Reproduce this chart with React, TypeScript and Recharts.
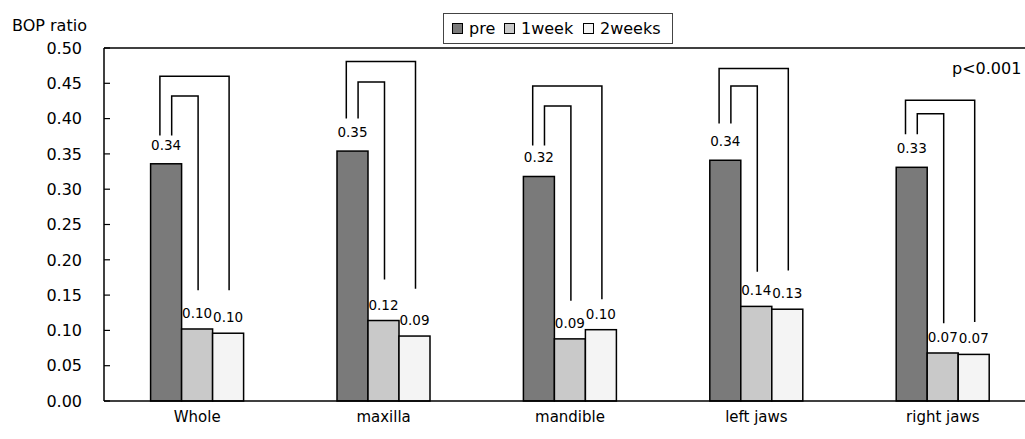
import { BarChart, Bar, XAxis, YAxis, ReferenceLine } from "recharts";

const categories = ["Whole", "maxilla", "mandible", "left jaws", "right jaws"];
const preValues = [0.336, 0.354, 0.318, 0.341, 0.331];
const week1Values = [0.102, 0.114, 0.088, 0.134, 0.068];
const week2Values = [0.096, 0.092, 0.101, 0.13, 0.066];
const preLabels = ["0.34", "0.35", "0.32", "0.34", "0.33"];
const week1Labels = ["0.10", "0.12", "0.09", "0.14", "0.07"];
const week2Labels = ["0.10", "0.09", "0.10", "0.13", "0.07"];
const yTicks = [0, 0.05, 0.1, 0.15, 0.2, 0.25, 0.3, 0.35, 0.4, 0.45, 0.5];

// significance brackets (pre vs 1week, pre vs 2weeks), in BOP ratio units
const outerTops = [0.46, 0.481, 0.446, 0.471, 0.426];
const innerTops = [0.432, 0.452, 0.418, 0.446, 0.407];
const leftFeet = [0.376, 0.4, 0.362, 0.393, 0.378];
const week1Feet = [0.157, 0.172, 0.142, 0.183, 0.11];
const week2Feet = [0.157, 0.159, 0.144, 0.185, 0.112];

const data = categories.map((name, i) => ({
  name,
  pre: preValues[i],
  week1: week1Values[i],
  week2: week2Values[i],
}));

const FONT = "'DejaVu Sans', sans-serif";
const COLORS = { pre: "#7a7a7a", week1: "#c9c9c9", week2: "#f4f4f4" };

const barRect = (p: any, fill: string) => (
  <rect
    x={p.x}
    y={p.y}
    width={p.width}
    height={p.height}
    fill={fill}
    stroke="#000"
    strokeWidth={1.5}
  />
);

const valueText = (p: any, text: string, gap: number) => (
  <text
    x={p.x + p.width / 2}
    y={p.y - gap}
    textAnchor="middle"
    fontSize={13.5}
    fontFamily={FONT}
    fill="#000"
  >
    {text}
  </text>
);

const PreShape = (p: any) => {
  const i = p.index;
  const k = p.height / preValues[i];
  const zero = p.y + p.height;
  const yOf = (v: number) => zero - v * k;
  const w = p.width;
  const lo = p.x + 0.3 * w;
  const li = p.x + 0.68 * w;
  const r1 = p.x + 1.5 * w + 1;
  const r2 = p.x + 2.5 * w + 1;
  return (
    <g>
      {barRect(p, COLORS.pre)}
      {valueText(p, preLabels[i], 14)}
      <polyline
        points={`${lo},${yOf(leftFeet[i])} ${lo},${yOf(outerTops[i])} ${r2},${yOf(outerTops[i])} ${r2},${yOf(week2Feet[i])}`}
        fill="none"
        stroke="#000"
        strokeWidth={1.5}
      />
      <polyline
        points={`${li},${yOf(leftFeet[i])} ${li},${yOf(innerTops[i])} ${r1},${yOf(innerTops[i])} ${r1},${yOf(week1Feet[i])}`}
        fill="none"
        stroke="#000"
        strokeWidth={1.5}
      />
    </g>
  );
};

const Week1Shape = (p: any) => (
  <g>
    {barRect(p, COLORS.week1)}
    {valueText(p, week1Labels[p.index], 11)}
  </g>
);

const Week2Shape = (p: any) => (
  <g>
    {barRect(p, COLORS.week2)}
    {valueText(p, week2Labels[p.index], 11)}
  </g>
);

const YTick = (p: any) => (
  <g>
    <line x1={p.x} x2={p.x + 6} y1={p.y} y2={p.y} stroke="#000" strokeWidth={1.2} />
    <text
      x={p.x - 22}
      y={p.y}
      dy="0.36em"
      textAnchor="end"
      fontSize={16}
      fontFamily={FONT}
      fill="#000"
    >
      {Number(p.payload.value).toFixed(2)}
    </text>
  </g>
);

const legendItems = [
  { label: "pre", color: COLORS.pre, left: 452 },
  { label: "1week", color: COLORS.week1, left: 504 },
  { label: "2weeks", color: COLORS.week2, left: 583 },
];

export default function App() {
  return (
    <div
      style={{
        position: "absolute",
        left: 0,
        top: 0,
        width: 1025,
        height: 439,
        overflow: "hidden",
        background: "#fff",
        fontFamily: FONT,
      }}
    >
      <BarChart
        width={1045}
        height={439}
        data={data}
        margin={{ top: 48, right: 9, bottom: 8, left: 0 }}
        barCategoryGap="25%"
        barGap={0}
      >
        <XAxis
          dataKey="name"
          height={30}
          tickLine={false}
          tickSize={0}
          tickMargin={10}
          axisLine={{ stroke: "#000", strokeWidth: 1.5 }}
          tick={{ fill: "#000", fontSize: 15, fontFamily: FONT }}
        />
        <YAxis
          width={104}
          domain={[0, 0.5]}
          ticks={yTicks}
          tickLine={false}
          tickSize={0}
          tickMargin={0}
          axisLine={{ stroke: "#000", strokeWidth: 1.5 }}
          tick={<YTick />}
        />
        <ReferenceLine y={0.5} stroke="#000" strokeWidth={1.5} />
        <Bar dataKey="pre" isAnimationActive={false} shape={<PreShape />} />
        <Bar dataKey="week1" isAnimationActive={false} shape={<Week1Shape />} />
        <Bar dataKey="week2" isAnimationActive={false} shape={<Week2Shape />} />
      </BarChart>

      <div style={{ position: "absolute", left: 12, top: 16, fontSize: 16, color: "#000" }}>
        BOP ratio
      </div>
      <div style={{ position: "absolute", left: 952, top: 59, fontSize: 16, color: "#000" }}>
        p&lt;0.001
      </div>
      <div
        style={{
          position: "absolute",
          left: 443,
          top: 13,
          width: 230,
          height: 31,
          border: "1px solid #444",
          boxSizing: "border-box",
        }}
      />
      {legendItems.map((it) => (
        <div
          key={it.label}
          style={{
            position: "absolute",
            left: it.left,
            top: 18,
            height: 20,
            display: "flex",
            alignItems: "center",
            fontSize: 16,
            color: "#000",
            whiteSpace: "nowrap",
          }}
        >
          <span
            style={{
              display: "inline-block",
              width: 9,
              height: 9,
              background: it.color,
              border: "1.5px solid #000",
              marginRight: 6,
            }}
          />
          {it.label}
        </div>
      ))}
    </div>
  );
}
